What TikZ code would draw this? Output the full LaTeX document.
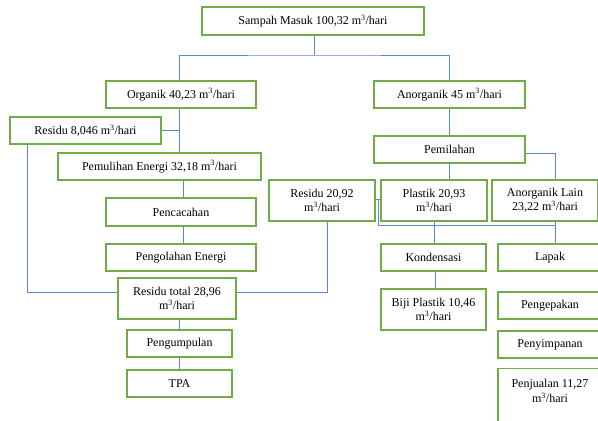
\documentclass[tikz,border=0pt]{standalone}
\usepackage{fontspec}
\setmainfont{Liberation Serif}
\usepackage{tikz}
\usepackage{color}
\definecolor{boxgreen}{RGB}{112,173,71}
\definecolor{linkblue}{RGB}{90,134,214}

\begin{document}
\begin{tikzpicture}[x=1pt,y=-1pt,
	box/.style={draw=boxgreen,line width=1.3pt,fill=white,align=center,inner sep=2pt,font=\fontsize{12}{14.5}\selectfont},
	link/.style={draw=linkblue,line width=0.9pt}]
	\useasboundingbox (0,0) rectangle (598,421);
	\node[box,minimum width=222pt,minimum height=28pt] (sampah) at (313,21) {Sampah Masuk 100,32 m\textsuperscript{3}/hari};
	\node[box,minimum width=150pt,minimum height=27pt] (organik) at (181,94.5) {Organik 40,23 m\textsuperscript{3}/hari};
	\node[box,minimum width=151pt,minimum height=27pt] (anorganik) at (449.5,94.5) {Anorganik 45 m\textsuperscript{3}/hari};
	\node[box,minimum width=151pt,minimum height=27pt] (residuorg) at (85.5,130.5) {Residu 8,046 m\textsuperscript{3}/hari};
	\node[box,minimum width=203pt,minimum height=27pt] (pemulihan) at (159.5,166.5) {Pemulihan Energi 32,18 m\textsuperscript{3}/hari};
	\node[box,minimum width=150pt,minimum height=28pt] (pencacahan) at (181,212) {Pencacahan};
	\node[box,minimum width=150pt,minimum height=27pt] (pengolahan) at (181,257.5) {Pengolahan Energi};
	\node[box,minimum width=118pt,minimum height=41pt] (residutotal) at (177,298.5) {Residu total 28,96\\m\textsuperscript{3}/hari};
	\node[box,minimum width=105pt,minimum height=27pt] (pengumpulan) at (179.5,343.5) {Pengumpulan};
	\node[box,minimum width=105pt,minimum height=27pt] (tpa) at (179.5,383.5) {TPA};
	\node[box,minimum width=151pt,minimum height=27pt] (pemilahan) at (449.5,149.5) {Pemilahan};
	\node[box,minimum width=106pt,minimum height=41pt] (residuanorg) at (322,200.5) {Residu 20,92\\m\textsuperscript{3}/hari};
	\node[box,minimum width=106pt,minimum height=41pt] (plastik) at (434,200.5) {Plastik 20,93\\m\textsuperscript{3}/hari};
	\node[box,minimum width=106pt,minimum height=41pt] (lain) at (545,200.5) {Anorganik Lain\\23,22 m\textsuperscript{3}/hari};
	\node[box,minimum width=105pt,minimum height=27pt] (kondensasi) at (433.5,257.5) {Kondensasi};
	\node[box,minimum width=105pt,minimum height=41pt] (biji) at (433.5,309.5) {Biji Plastik 10,46\\m\textsuperscript{3}/hari};
	\node[box,minimum width=104pt,minimum height=27pt] (lapak) at (550,257.5) {Lapak};
	\node[box,minimum width=104pt,minimum height=27pt] (pengepakan) at (550,305.5) {Pengepakan};
	\node[box,minimum width=104pt,minimum height=27pt] (penyimpanan) at (550,344.5) {Penyimpanan};
	\node[box,minimum width=104pt,anchor=north,text depth=35pt,inner ysep=11pt] (penjualan) at (550,368) {Penjualan 11,27\\m\textsuperscript{3}/hari};
	\coordinate (split) at (314,55);
	\coordinate (leftturn) at (27,292);
	\coordinate (rightturn) at (327,292);
	\coordinate (midturn) at (378,225);
	\coordinate (lainturn) at (555,225);
	\draw[link] (sampah.south -| split) -- (split);
	\draw[link] (organik.north -| 179,0) |- (split) -| (anorganik.north -| 449,0);
	\draw[link] (organik.south -| 179,0) -- (pemulihan.north -| 179,0);
	\draw[link] (residuorg.east) -- (residuorg.east -| 179,0);
	\draw[link] (pemulihan.south -| 183,0) -- (pencacahan.north -| 183,0);
	\draw[link] (pencacahan.south -| 183,0) -- (pengolahan.north -| 183,0);
	\draw[link] (residuorg.south -| leftturn) -- (leftturn) -- (leftturn -| residutotal.west);
	\draw[link] (residutotal.east |- rightturn) -- (rightturn) -- (residuanorg.south -| rightturn);
	\draw[link] (residutotal.south -| 179,0) -- (pengumpulan.north -| 179,0);
	\draw[link] (pengumpulan.south -| 179,0) -- (tpa.north -| 179,0);
	\draw[link] (anorganik.south -| 449,0) -- (pemilahan.north -| 449,0);
	\draw[link] (pemilahan.south -| 449,0) -- (plastik.north -| 449,0);
	\draw[link] (pemilahan.east |- 0,153) -| (lain.north -| lainturn);
	\draw[link] (residuanorg.east |- 0,199) -- (plastik.west |- 0,199);
	\draw[link] (midturn |- 0,199) -- (midturn) -- (lainturn);
	\draw[link] (lain.south -| lainturn) -- (lapak.north -| lainturn);
	\draw[link] (plastik.south) -- (kondensasi.north -| plastik.south);
	\draw[link] (kondensasi.south -| 435,0) -- (biji.north -| 435,0);
\end{tikzpicture}
\end{document}
